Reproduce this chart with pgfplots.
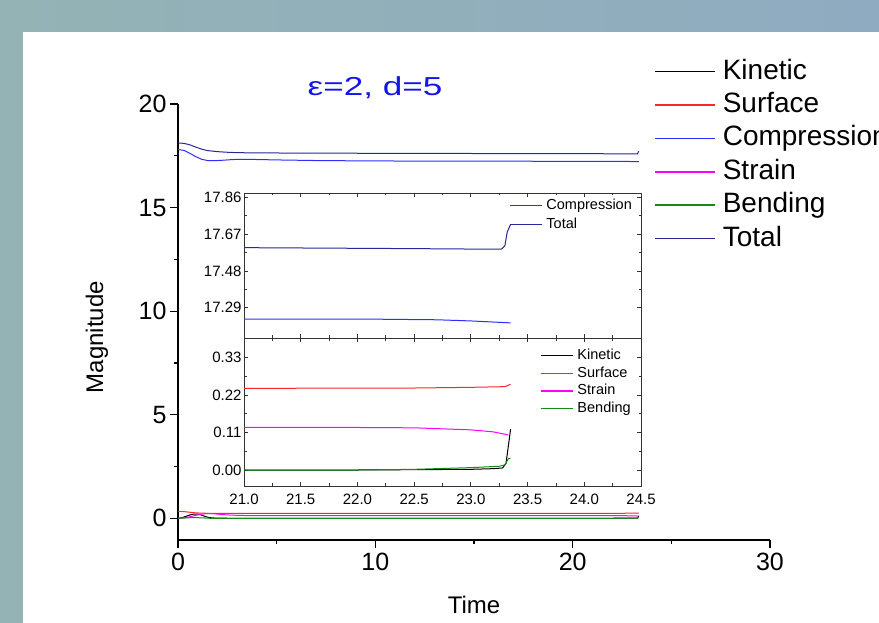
\documentclass[border=0pt]{standalone}
\usepackage{pgfplots}
\pgfplotsset{compat=1.18}
\usepackage{pgfplotstable}
\usepackage{fontspec}
\setmainfont{Liberation Sans}
\usepackage{graphicx}

\definecolor{bgL}{RGB}{147,179,181}
\definecolor{bgR}{RGB}{143,171,193}
\definecolor{cKin}{RGB}{0,0,0}
\definecolor{cSur}{RGB}{250,40,40}
\definecolor{cCom}{RGB}{45,45,255}
\definecolor{cStr}{RGB}{255,0,255}
\definecolor{cBen}{RGB}{20,140,20}
\definecolor{cTot}{RGB}{40,40,150}
\definecolor{titleblue}{RGB}{20,20,240}

\pgfplotstableread{
t y
0 0
0.2 0.03
0.4 0.09
0.6 0.16
0.8 0.2
1.0 0.2
1.2 0.15
1.4 0.08
1.6 0.03
1.9 0.005
2.5 0.0
5 0.0
21 0.0
22 0.0
22.5 0.001
23 0.002
23.2 0.004
23.28 0.006
23.31 0.02
23.33 0.07
23.35 0.12
}\kin

\pgfplotstableread{
t y
0 0.33
0.3 0.32
0.6 0.29
0.9 0.26
1.2 0.245
1.6 0.238
2.5 0.238
5 0.24
21 0.24
22.5 0.241
23 0.243
23.3 0.245
23.35 0.252
}\sur

\pgfplotstableread{
t y
0 17.80
0.3 17.76
0.6 17.62
0.9 17.46
1.2 17.33
1.5 17.27
1.8 17.26
2.2 17.28
2.8 17.32
3.4 17.33
4.0 17.32
5 17.30
7 17.27
10 17.25
15 17.24
21 17.232
22 17.232
22.7 17.228
23.0 17.222
23.35 17.212
}\com

\pgfplotstableread{
t y
0 0
0.3 0.02
0.6 0.07
0.9 0.14
1.2 0.2
1.5 0.23
1.8 0.22
2.1 0.19
2.5 0.16
3 0.14
3.5 0.13
4.5 0.126
6 0.125
21 0.125
22 0.125
22.5 0.124
23 0.118
23.2 0.112
23.33 0.103
}\str

\pgfplotstableread{
t y
0 0
0.3 0.01
0.6 0.025
0.9 0.03
1.2 0.02
1.6 0.0
2.0 -0.008
2.5 -0.005
3.5 0.0
21 0.0
22 0.0
22.5 0.002
23 0.007
23.25 0.011
23.3 0.015
23.33 0.033
23.35 0.035
}\ben

\pgfplotstableread{
t y
0 18.12
0.3 18.10
0.6 18.03
0.9 17.92
1.2 17.82
1.5 17.75
2.0 17.70
2.5 17.67
3.0 17.65
4.0 17.64
6.0 17.63
10 17.62
15 17.61
21 17.60
22.5 17.595
23.2 17.592
23.27 17.593
23.3 17.61
23.32 17.68
23.35 17.72
}\tot

\begin{document}
\begin{tikzpicture}[x=1pt,y=1pt]
\shade[left color=bgL, right color=bgR] (0,0) rectangle (879,622);
\fill[white] (23,-2) rectangle (881,590);

% main axis
\begin{axis}[
  at={(178pt,82pt)}, anchor=south west, scale only axis,
  width=592pt, height=436pt,
  xmin=0, xmax=30, ymin=-1.05, ymax=20,
  axis x line*=bottom, axis y line*=left,
  axis line style={line width=1.4pt, black, -},
  xtick={0,10,20,30}, ytick={0,5,10,15,20}, minor tick num=1,
  tick align=outside, major tick length=8pt, minor tick length=4pt,
  tick style={line width=1.2pt, black},
  /pgf/number format/assume math mode=true,
  ticklabel style={font=\fontsize{25}{25}\selectfont},
  xticklabel style={yshift=-2pt},
  xlabel={Time}, ylabel={Magnitude},
  label style={font=\fontsize{24}{24}\selectfont},
  xlabel style={at={(axis description cs:0.5,0)}, anchor=center, yshift=-65pt},
  ylabel style={at={(axis description cs:-0.1368,0.4656)}, anchor=center},
  legend cell align=left,
  legend image code/.code={\draw[#1, line width=1.6pt] (0pt,0.5pt) -- (60pt,0.5pt);},
  legend style={at={(0.799,1.108)}, anchor=north west, draw=none, fill=none,
    font=\fontsize{28}{28}\selectfont, column sep=7pt, row sep=7.4pt,
    nodes={inner sep=0pt, text height=20pt, text depth=6pt}},
  every axis plot/.append style={line width=1pt},
]
\addplot[cKin] table[x=t,y=y] {\kin};
\addlegendentry{Kinetic}
\addplot[cSur] table[x=t,y=y] {\sur};
\addlegendentry{Surface}
\addplot[cCom] table[x=t,y=y] {\com};
\addlegendentry{Compression}
\addplot[cStr] table[x=t,y=y] {\str};
\addlegendentry{Strain}
\addplot[cBen] table[x=t,y=y] {\ben};
\addlegendentry{Bending}
\addplot[cTot] table[x=t,y=y] {\tot};
\addlegendentry{Total}
\end{axis}

% upper inset
\begin{axis}[
  at={(244pt,284pt)}, anchor=south west, scale only axis,
  width=397pt, height=145pt,
  xmin=21, xmax=24.5, ymin=17.134, ymax=17.882,
  xtick={21,21.5,...,24.5}, xticklabels={},
  ytick={17.29,17.48,17.67,17.86},
  minor x tick num=1, minor y tick num=1,
  tick align=inside, major tick length=4pt, minor tick length=2.5pt,
  axis line style={line width=0.8pt, black!80},
  tick style={line width=0.8pt, black!80},
  /pgf/number format/assume math mode=true,
  yticklabel style={font=\fontsize{15}{15}\selectfont, xshift=1pt, /pgf/number format/.cd, fixed, fixed zerofill, precision=2},
  axis background/.style={fill=white},
  legend cell align=left,
  legend image code/.code={\draw[#1, line width=1.4pt] (0pt,0.5pt) -- (32pt,0.5pt);},
  legend style={at={(0.985,0.975)}, anchor=north east, draw=none, fill=none,
    font=\fontsize{14.5}{14.5}\selectfont, column sep=4pt, row sep=5pt,
    nodes={inner sep=0pt, text height=10.5pt, text depth=3.5pt}},
  every axis plot/.append style={line width=1pt},
]
\addplot[cCom] table[x=t,y=y] {\com};
\addlegendentry{Compression}
\addplot[cTot] table[x=t,y=y] {\tot};
\addlegendentry{Total}
\end{axis}

% lower inset
\begin{axis}[
  at={(244pt,136pt)}, anchor=south west, scale only axis,
  width=397pt, height=148pt,
  xmin=21, xmax=24.5, ymin=-0.047, ymax=0.388,
  xtick={21,21.5,...,24.5},
  ytick={0,0.11,0.22,0.33},
  minor x tick num=1, minor y tick num=1,
  tick align=inside, major tick length=4pt, minor tick length=2.5pt,
  axis line style={line width=0.8pt, black!80},
  tick style={line width=0.8pt, black!80},
  /pgf/number format/assume math mode=true,
  yticklabel style={font=\fontsize{15}{15}\selectfont, xshift=1pt, /pgf/number format/.cd, fixed, fixed zerofill, precision=2},
  xticklabel style={font=\fontsize{15}{15}\selectfont, yshift=-4pt, /pgf/number format/.cd, fixed, fixed zerofill, precision=1},
  axis background/.style={fill=white},
  legend cell align=left,
  legend image code/.code={\draw[#1, line width=1.4pt] (0pt,0.5pt) -- (32pt,0.5pt);},
  legend style={at={(0.982,0.94)}, anchor=north east, draw=none, fill=none,
    font=\fontsize{14.5}{14.5}\selectfont, column sep=4pt, row sep=3.7pt,
    nodes={inner sep=0pt, text height=10.5pt, text depth=3.5pt}},
  every axis plot/.append style={line width=1pt},
]
\addplot[cKin] table[x=t,y=y] {\kin};
\addlegendentry{Kinetic}
\addplot[cSur] table[x=t,y=y] {\sur};
\addlegendentry{Surface}
\addplot[cStr] table[x=t,y=y] {\str};
\addlegendentry{Strain}
\addplot[cBen] table[x=t,y=y] {\ben};
\addlegendentry{Bending}
\end{axis}

\node[text=titleblue, font=\fontsize{26}{26}\selectfont] at (375,534) {\scalebox{1.35}[1]{ε=2, d=5}};

\pgfresetboundingbox
\path[use as bounding box] (0,0) rectangle (879,622);
\end{tikzpicture}
\end{document}
